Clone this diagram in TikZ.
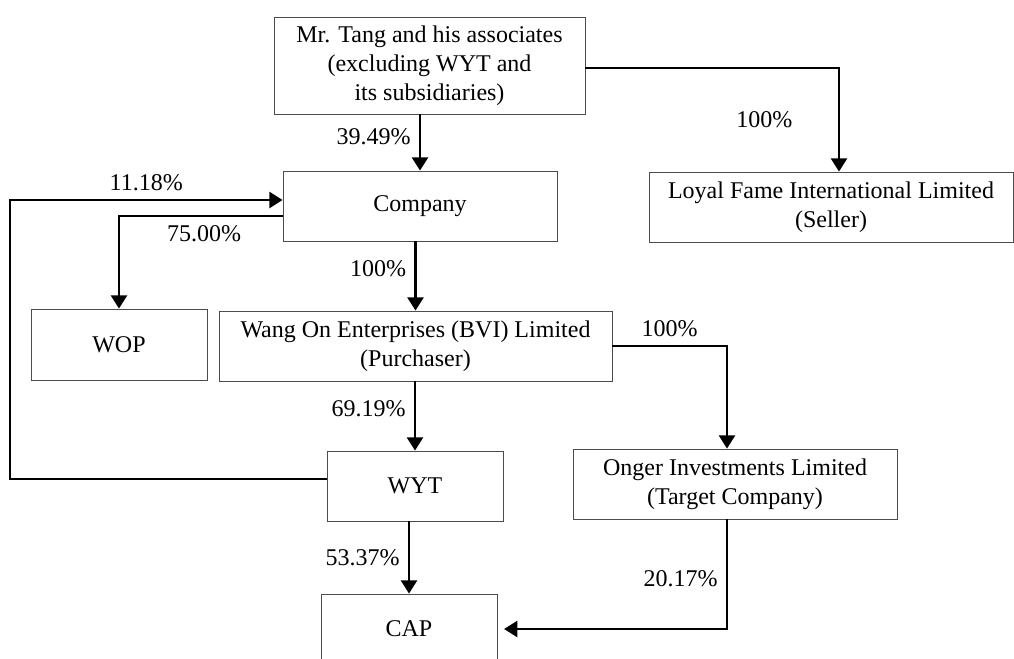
\documentclass[tikz,border=0pt]{standalone}
\usepackage{fontspec}
\setmainfont{Liberation Serif}
\usepackage{tikz}
\usetikzlibrary{arrows.meta}
\tikzstyle{box} = [draw=black!70, line width=0.6pt, align=center, inner sep=2pt, minimum height=52.5pt]
\tikzstyle{arr} = [line width=2.1pt, -{Triangle[length=10pt,width=12pt]}]
\tikzstyle{pct} = [inner sep=6pt]
\begin{document}
\begin{tikzpicture}[x=0.75pt,y=-0.75pt,font=\fontsize{18}{21.6}\selectfont]
			\useasboundingbox (0,0) rectangle (1014,658);
			\node[box,minimum width=233.25pt,minimum height=72.75pt] (tang) at (429.5,65.5) {Mr. Tang and his associates\\(excluding WYT and\\its subsidiaries)};
			\node[box,minimum width=205.5pt] (comp) at (420,206) {Company};
			\node[box,minimum width=273pt] (loyal) at (831,207) {Loyal Fame International Limited\\(Seller)};
			\node[box,minimum width=132pt,minimum height=53.25pt] (wop) at (119,344.5) {WOP};
			\node[box,minimum width=294.75pt] (wang) at (415.5,346) {Wang On Enterprises (BVI) Limited\\(Purchaser)};
			\node[box,minimum width=132pt] (wyt) at (415,486) {WYT};
			\node[box,minimum width=243pt] (onger) at (735,484) {Onger Investments Limited\\(Target Company)};
			\node[box,minimum width=132pt] (cap) at (409,629) {CAP};
			\coordinate (loop) at (10,340);
			\draw[arr] (tang.south -| comp.north) --node[pct,left,pos=0.4] (p3949) {39.49\%} (comp.north);
			\draw[arr] ([yshift=-1.9pt]tang.east) -| node[pct,left=28pt,pos=0.75] (p100s) {100\%} ([xshift=6pt]loyal.north);
			\draw[arr] ([yshift=5.25pt]wyt.west) -| (loop) |- node[pct,above,pos=0.75] (p1118) {11.18\%} ([yshift=4.5pt]comp.west);
			\draw[arr] ([yshift=-7.5pt]comp.west) -| node[pct,below,pos=0.24] (p7500) {75.00\%} (wop.north);
			\draw[arr] (comp.south -| wang.north) --node[pct,left,pos=0.39] (p100p) {100\%} (wang.north);
			\draw[arr] (wang.east) -| node[pct,above,pos=0.25] (p100t) {100\%} ([xshift=-6pt]onger.north);
			\draw[arr] (wang.south -| wyt.north) --node[pct,left,pos=0.39] (p6919) {69.19\%} (wyt.north);
			\draw[arr] (wyt.south -| cap.north) --node[pct,left,pos=0.5] (p5337) {53.37\%} (cap.north);
			\draw[arr,shorten >=5pt] ([xshift=-6pt]onger.south) |- node[pct,left,pos=0.27] (p2017) {20.17\%} (cap.east);
		\end{tikzpicture}
\end{document}
